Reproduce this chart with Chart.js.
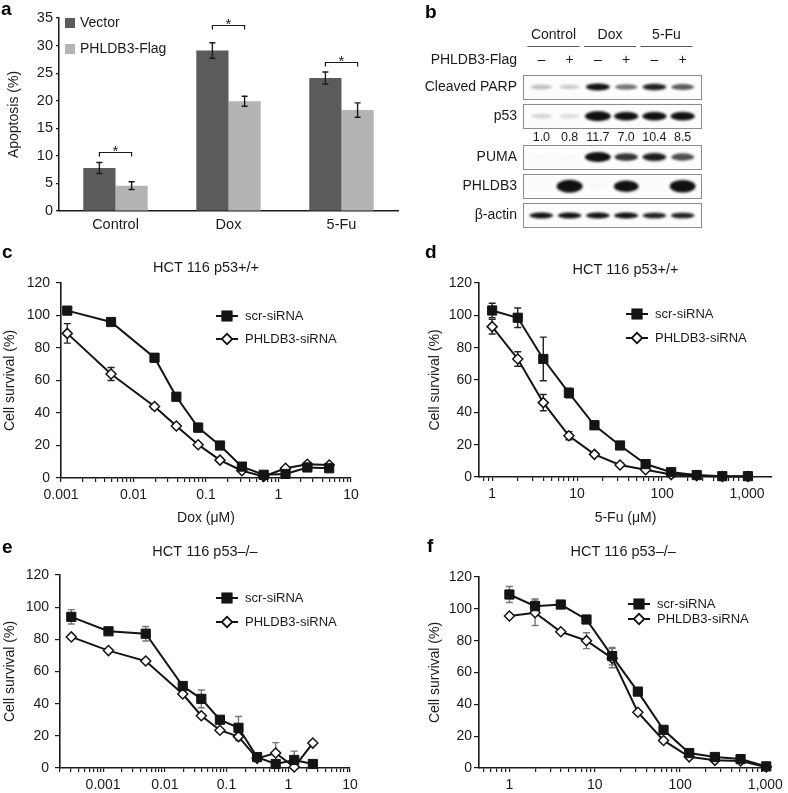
<!DOCTYPE html>
<html>
<head>
<meta charset="utf-8">
<title>PHLDB3 figure</title>
<script src="https://cdn.jsdelivr.net/npm/chart.js@4.4.1/dist/chart.umd.min.js"></script>
<style>
  body { margin: 0; background: #fff; }
  #fig { position: relative; width: 788px; height: 793px; overflow: hidden; }
  #fig canvas { position: absolute; }
</style>
</head>
<body>
<div id="fig">
  <canvas id="chartA" width="400" height="240" style="left:0;top:0"></canvas>
  <canvas id="chartB" width="388" height="240" style="left:400px;top:0"></canvas>
  <canvas id="chartC" width="400" height="290" style="left:0;top:240px"></canvas>
  <canvas id="chartD" width="388" height="290" style="left:400px;top:240px"></canvas>
  <canvas id="chartE" width="400" height="273" style="left:0;top:520px"></canvas>
  <canvas id="chartF" width="388" height="273" style="left:400px;top:520px"></canvas>
</div>
<script>
// ---------- data ----------
// a: apoptosis (%)
const groupsA = ['Control', 'Dox', '5-Fu'];
const vectorPct = [7.8, 29.1, 24.1];
const vectorErr = [1.0, 1.4, 1.1];
const flagPct = [4.6, 19.9, 18.3];
const flagErr = [0.7, 0.9, 1.3];
const bracketPct = [10.7, 33.7, 27.1];

// b: western blot (band signal, arbitrary units)
const blotGroups = ['Control', 'Dox', '5-Fu'];
const flagSigns = ['–', '+', '–', '+', '–', '+'];
const blotRows = ['Cleaved PARP', 'p53', 'PUMA', 'PHLDB3', 'β-actin'];
const parpSignal = [0.25, 0.2, 0.95, 0.55, 0.9, 0.65];
const p53Signal = [0.15, 0.12, 1.35, 1.0, 1.0, 1.0];
const pumaSignal = [0.02, 0.02, 1.35, 0.8, 0.9, 0.7];
const phldb3Signal = [0, 1.4, 0.02, 1.1, 0, 1.35];
const actinSignal = [0.95, 0.95, 0.95, 1.0, 0.9, 0.9];
const p53Ratio = ['1.0', '0.8', '11.7', '7.0', '10.4', '8.5'];

// c: HCT 116 p53+/+, Dox
const doxC = [0.00122, 0.0049, 0.0195, 0.039, 0.078, 0.156, 0.3125, 0.625, 1.25, 2.5, 5];
const scrC = [103, 96, 74, 50, 31, 20, 7, 2, 2.5, 6.5, 6];
const scrErrC = [1.5, 1, 2.5, 2, 2.5, 1, 1, 1, 1, 1, 1];
const phlC = [89, 64, 44, 32, 20.5, 11, 4.5, 1, 6, 8.5, 8];
const phlErrC = [6, 4, 1.5, 1, 1, 1, 1, 0.5, 1, 1, 1];

// d: HCT 116 p53+/+, 5-Fu
const fuD = [1, 2, 4, 8, 16, 32, 64, 128, 256, 512, 1024];
const scrD = [103, 98.5, 73, 52, 32, 19.5, 8, 3, 1.2, 0.5, 0.5];
const scrErrD = [4.5, 6, 13.5, 3, 2.5, 1, 1, 1, 1, 0.5, 0.5];
const phlD = [93, 73, 46, 25.5, 14, 7.4, 4.5, 1.5, 0.8, 0.3, 0.3];
const phlErrD = [4.5, 4.5, 5, 2.5, 1, 1, 1, 0.5, 0.5, 0.3, 0.3];

// e: HCT 116 p53-/-, Dox
const doxE = [0.000305, 0.00122, 0.0049, 0.0195, 0.039, 0.078, 0.156, 0.3125, 0.625, 1.25, 2.5];
const scrE = [94, 85, 83.5, 51, 43, 30, 25, 6.8, 2.5, 5, 2.5];
const scrErrE = [4.5, 1, 4.5, 1, 5.5, 1, 7, 1, 1, 5.5, 1];
const phlE = [81.5, 73, 66.5, 46, 32.5, 23.5, 19.5, 6, 9.3, 0.6, 15.5];
const phlErrE = [1, 1, 1, 1, 1, 1, 2.5, 1, 6.5, 1, 1];

// f: HCT 116 p53-/-, 5-Fu
const fuF = [1, 2, 4, 8, 16, 32, 64, 128, 256, 512, 1024];
const scrF = [109, 101.7, 102.7, 93.3, 70.3, 48, 24, 9.4, 6.9, 5.6, 1];
const scrErrF = [5, 4.5, 1, 1, 5.5, 1, 1, 1, 1, 1, 1];
const phlF = [95.5, 97.5, 85.6, 80, 69, 35, 17.3, 7, 4.8, 4.4, 0.6];
const phlErrF = [1, 8, 1, 5, 6, 1, 1, 1, 1, 1, 1];

// ---------- shared ----------
const FONT = '"Liberation Sans", Arial, Helvetica, sans-serif';
const INK = '#1a1a1a';
Chart.defaults.font.family = FONT;
Chart.defaults.color = INK;
Chart.defaults.animation = false;

// error bars with caps, drawn behind (line) or in front (bar) of the marks
const errorBars = {
  id: 'errorBars',
  beforeDatasetsDraw(chart, args, opts) { if (!opts.front) drawErrors(chart, opts); },
  afterDatasetsDraw(chart, args, opts) { if (opts.front) drawErrors(chart, opts); }
};
function drawErrors(chart, opts) {
  const ctx = chart.ctx, y = chart.scales.y;
  ctx.save();
  ctx.strokeStyle = opts.color || INK;
  ctx.lineWidth = opts.width || 1.5;
  chart.data.datasets.forEach((ds, i) => {
    if (!ds.errors) return;
    chart.getDatasetMeta(i).data.forEach((el, j) => {
      const e = ds.errors[j];
      if (!e) return;
      const raw = ds.data[j];
      const v = typeof raw === 'object' ? raw.y : raw;
      const top = y.getPixelForValue(v + e), bot = y.getPixelForValue(v - e);
      const cap = opts.cap || 3;
      ctx.beginPath();
      ctx.moveTo(el.x, top); ctx.lineTo(el.x, bot);
      ctx.moveTo(el.x - cap, top); ctx.lineTo(el.x + cap, top);
      ctx.moveTo(el.x - cap, bot); ctx.lineTo(el.x + cap, bot);
      ctx.stroke();
    });
  });
  ctx.restore();
}

function panelLetter(ctx, letter, x, y) {
  ctx.save();
  ctx.font = 'bold 19px ' + FONT;
  ctx.fillStyle = '#000';
  ctx.textBaseline = 'alphabetic';
  ctx.fillText(letter, x, y);
  ctx.restore();
}

// ---------- a: bar chart ----------
const panelA = {
  id: 'panelA',
  afterDraw(chart) {
    const { ctx } = chart;
    const y = chart.scales.y;
    panelLetter(ctx, 'a', 1, 15);
    ctx.save();
    // legend
    ctx.font = '14px ' + FONT;
    ctx.textBaseline = 'middle';
    chart.data.datasets.forEach((ds, i) => {
      const cy = 23 + i * 26;
      ctx.fillStyle = ds.backgroundColor;
      ctx.fillRect(65, cy - 5, 10, 10);
      ctx.fillStyle = INK;
      ctx.fillText(ds.label, 80, cy);
    });
    // significance brackets
    const m0 = chart.getDatasetMeta(0).data, m1 = chart.getDatasetMeta(1).data;
    ctx.strokeStyle = INK;
    ctx.lineWidth = 1.2;
    ctx.textAlign = 'center';
    ctx.textBaseline = 'alphabetic';
    bracketPct.forEach((v, i) => {
      const by = Math.round(y.getPixelForValue(v)) + 0.5;
      ctx.beginPath();
      ctx.moveTo(m0[i].x, by + 4); ctx.lineTo(m0[i].x, by);
      ctx.lineTo(m1[i].x, by); ctx.lineTo(m1[i].x, by + 4);
      ctx.stroke();
      ctx.fillStyle = INK;
      ctx.font = '15px ' + FONT;
      ctx.fillText('*', (m0[i].x + m1[i].x) / 2, by + 3);
    });
    ctx.restore();
  }
};

new Chart(document.getElementById('chartA'), {
  type: 'bar',
  data: {
    labels: groupsA,
    datasets: [
      { label: 'Vector', data: vectorPct, errors: vectorErr, backgroundColor: '#5b5b5b' },
      { label: 'PHLDB3-Flag', data: flagPct, errors: flagErr, backgroundColor: '#b4b4b4' }
    ]
  },
  options: {
    responsive: false,
    layout: { padding: { left: 0, top: 18, right: 2, bottom: 0 } },
    datasets: { bar: { categoryPercentage: 0.57, barPercentage: 1.0 } },
    plugins: {
      legend: { display: false },
      tooltip: { enabled: false },
      errorBars: { front: true, cap: 3, width: 1.4 }
    },
    scales: {
      x: {
        afterFit: s => { s.height = 29; },
        grid: { display: false, drawTicks: false },
        border: { display: true, color: INK, width: 1.5 },
        ticks: { font: { size: 14.5 }, padding: 5 }
      },
      y: {
        min: 0, max: 35,
        afterFit: s => { s.width = 59; },
        ticks: { stepSize: 5, font: { size: 14.5 }, padding: 3 },
        grid: { drawOnChartArea: false, tickLength: 3, color: INK, lineWidth: 1.2 },
        border: { display: true, color: INK, width: 1.5 },
        title: { display: true, text: 'Apoptosis (%)', font: { size: 14 }, padding: { top: 6, bottom: 0 } }
      }
    }
  },
  plugins: [errorBars, panelA]
});

// ---------- b: western blot ----------
const blotSignals = [parpSignal, p53Signal, pumaSignal, phldb3Signal, actinSignal];
const blotLanes = flagSigns.map((_, i) => i + 1);
const rowPos = [0, 1, 2.4, 3.4, 4.4];   // vertical slot of each blot strip
const ratioPos = 1.72;
const rowBandH = [7, 8.5, 8.5, 11, 6];
const boxHalf = 0.41;

function bandSprite(signal, baseH) {
  const s = Math.min(signal, 1.4);
  const w = 20 + 6 * s / 1.4;
  const h = baseH * (0.55 + 0.45 * s);
  const c = document.createElement('canvas');
  c.width = Math.ceil(w + 8);
  c.height = Math.ceil(h + 8);
  const g = c.getContext('2d');
  g.filter = 'blur(1px)';
  g.fillStyle = 'rgba(16,16,16,' + Math.min(1, s * 1.05).toFixed(3) + ')';
  g.beginPath();
  g.ellipse(c.width / 2, c.height / 2, w / 2, h / 2, 0, 0, Math.PI * 2);
  g.fill();
  return c;
}

const blotFrame = {
  id: 'blotFrame',
  beforeDatasetsDraw(chart) {
    const { ctx, chartArea: ca } = chart;
    const y = chart.scales.y;
    ctx.save();
    rowPos.forEach(r => {
      const t = Math.round(y.getPixelForValue(r - boxHalf)) + 0.5;
      const b = Math.round(y.getPixelForValue(r + boxHalf)) + 0.5;
      ctx.fillStyle = '#fcfcfc';
      ctx.fillRect(ca.left, t, ca.right - ca.left, b - t);
      ctx.strokeStyle = '#8c8c8c';
      ctx.lineWidth = 1;
      ctx.strokeRect(Math.round(ca.left) + 0.5, t, Math.round(ca.right - ca.left), b - t);
    });
    ctx.restore();
  },
  afterDraw(chart) {
    const { ctx, chartArea: ca } = chart;
    const x = chart.scales.x, y = chart.scales.y;
    panelLetter(ctx, 'b', 25, 18);
    ctx.save();
    ctx.fillStyle = INK;
    ctx.strokeStyle = '#555';
    ctx.lineWidth = 1;
    ctx.font = '14px ' + FONT;
    ctx.textBaseline = 'middle';
    ctx.textAlign = 'center';
    blotGroups.forEach((g, i) => {
      const cx = (x.getPixelForValue(blotLanes[2 * i]) + x.getPixelForValue(blotLanes[2 * i + 1])) / 2 - 2;
      ctx.fillText(g, cx, ca.top - 40);
      ctx.beginPath();
      ctx.moveTo(cx - 26, ca.top - 28.5);
      ctx.lineTo(cx + 26, ca.top - 28.5);
      ctx.stroke();
    });
    flagSigns.forEach((s, i) => ctx.fillText(s, x.getPixelForValue(blotLanes[i]), ca.top - 15));
    ctx.font = '12.5px ' + FONT;
    p53Ratio.forEach((s, i) => ctx.fillText(s, x.getPixelForValue(blotLanes[i]), y.getPixelForValue(ratioPos)));
    ctx.font = '14px ' + FONT;
    ctx.textAlign = 'right';
    ctx.fillText('PHLDB3-Flag', ca.left - 6, ca.top - 15);
    blotRows.forEach((name, r) => ctx.fillText(name, ca.left - 6, y.getPixelForValue(rowPos[r])));
    ctx.restore();
  }
};

new Chart(document.getElementById('chartB'), {
  type: 'scatter',
  data: {
    datasets: blotRows.map((name, r) => ({
      label: name,
      data: blotLanes.map(l => ({ x: l, y: rowPos[r] })),
      pointStyle: blotSignals[r].map(s => bandSprite(s, rowBandH[r])),
      pointRadius: 4,
      clip: false
    }))
  },
  options: {
    responsive: false,
    layout: { padding: { left: 123, top: 75, right: 87, bottom: 12 } },
    plugins: { legend: { display: false }, tooltip: { enabled: false } },
    scales: {
      x: { type: 'linear', min: 0.35, max: 6.65, display: false },
      y: { type: 'linear', min: -0.41, max: 4.83, reverse: true, display: false }
    }
  },
  plugins: [blotFrame]
});

// ---------- c-f: survival curves ----------
function logTicks(min, max) {
  const out = [];
  for (let e = Math.floor(Math.log10(min)); e <= Math.ceil(Math.log10(max)); e++) {
    for (let k = 1; k <= 9; k++) {
      const v = Number((k * Math.pow(10, e)).toPrecision(6));
      if (v >= min * 0.999 && v <= max * 1.001) out.push(v);
    }
  }
  return out;
}
function decadeLabel(v) {
  const l = Math.log10(v);
  if (Math.abs(l - Math.round(l)) > 1e-6) return '';
  return v >= 1 ? v.toLocaleString('en-US') : String(v);
}

const survivalText = {
  id: 'survivalText',
  afterDraw(chart, args, o) {
    const { ctx, chartArea: ca } = chart;
    panelLetter(ctx, o.letter, o.letterX, o.letterY);
    ctx.save();
    ctx.fillStyle = INK;
    ctx.font = '14.5px ' + FONT;
    ctx.textAlign = 'center';
    ctx.textBaseline = 'middle';
    ctx.fillText(o.title, (ca.left + ca.right) / 2, o.titleY);
    // legend: line through marker
    ctx.textAlign = 'left';
    ctx.font = '13px ' + FONT;
    chart.data.datasets.forEach((ds, i) => {
      const ly = o.legendY[i], lx = o.legendX;
      ctx.strokeStyle = ds.borderColor;
      ctx.lineWidth = 2;
      ctx.beginPath();
      ctx.moveTo(lx - 11, ly); ctx.lineTo(lx + 11, ly);
      ctx.stroke();
      Chart.helpers.drawPoint(ctx, {
        pointStyle: ds.pointStyle, radius: ds.pointRadius, borderWidth: ds.pointBorderWidth || 1
      }, lx, ly);
      ctx.fillStyle = ds.pointBackgroundColor;
      ctx.strokeStyle = ds.pointBorderColor;
      ctx.lineWidth = ds.pointBorderWidth || 1;
      ctx.fill();
      ctx.stroke();
      ctx.fillStyle = INK;
      ctx.fillText(ds.label, lx + 18, ly);
    });
    ctx.restore();
  }
};

function survivalChart(id, c) {
  return new Chart(document.getElementById(id), {
    type: 'line',
    data: {
      datasets: [
        {
          label: 'scr-siRNA',
          data: c.x.map((v, i) => ({ x: v, y: c.scr[i] })),
          errors: c.scrErr,
          borderColor: '#141414', borderWidth: 2,
          pointStyle: 'rect', pointRadius: 6.5,
          pointBackgroundColor: '#141414', pointBorderColor: '#141414', pointBorderWidth: 1,
          clip: false
        },
        {
          label: 'PHLDB3-siRNA',
          data: c.x.map((v, i) => ({ x: v, y: c.phl[i] })),
          errors: c.phlErr,
          borderColor: '#141414', borderWidth: 2,
          pointStyle: 'rectRot', pointRadius: 5,
          pointBackgroundColor: '#ffffff', pointBorderColor: '#141414', pointBorderWidth: 1.5,
          clip: false
        }
      ]
    },
    options: {
      responsive: false,
      layout: { padding: { left: c.padLeft, top: c.padTop, right: c.padRight, bottom: 0 } },
      plugins: {
        legend: { display: false },
        tooltip: { enabled: false },
        errorBars: { front: false, cap: 3.5, width: 1.4, color: c.errColor },
        survivalText: c.text
      },
      scales: {
        x: {
          type: 'logarithmic', min: c.min, max: c.max,
          afterFit: s => { s.height = c.xHeight; },
          afterBuildTicks: s => { s.ticks = logTicks(c.min, c.max).map(v => ({ value: v })); },
          ticks: { callback: v => decadeLabel(v), autoSkip: false, maxRotation: 0, font: { size: 14 }, padding: 5 },
          grid: { drawOnChartArea: false, tickLength: 4, color: INK, lineWidth: 1.2 },
          border: { display: true, color: INK, width: 1.6 },
          title: { display: !!c.xTitle, text: c.xTitle || '', font: { size: 14 }, padding: { top: 0, bottom: 3 } }
        },
        y: {
          min: 0, max: 120,
          afterFit: s => { s.width = c.yWidth; },
          ticks: { stepSize: 20, font: { size: 14 }, padding: c.yTickPad },
          grid: { drawOnChartArea: false, tickLength: 5, color: INK, lineWidth: 1.2 },
          border: { display: true, color: INK, width: 1.6 },
          title: { display: true, text: 'Cell survival (%)', font: { size: 14 }, padding: { top: 2, bottom: 0 } }
        }
      }
    },
    plugins: [errorBars, survivalText]
  });
}

survivalChart('chartC', {
  x: doxC, scr: scrC, scrErr: scrErrC, phl: phlC, phlErr: phlErrC,
  min: 0.001, max: 10, xTitle: 'Dox (μM)', errColor: '#222',
  padLeft: 0, yWidth: 61, padTop: 43, padRight: 49, xHeight: 52, yTickPad: 6,
  text: { letter: 'c', letterX: 2, letterY: 18, title: 'HCT 116 p53+/+', titleY: 28, legendX: 227, legendY: [76, 99] }
});
survivalChart('chartD', {
  x: fuD, scr: scrD, scrErr: scrErrD, phl: phlD, phlErr: phlErrD,
  min: 0.73, max: 1968, xTitle: '5-Fu (μM)', errColor: '#222',
  padLeft: 25, yWidth: 54, padTop: 43, padRight: 16, xHeight: 53, yTickPad: 2,
  text: { letter: 'd', letterX: 25, letterY: 18, title: 'HCT 116 p53+/+', titleY: 30, legendX: 237, legendY: [74, 98] }
});
survivalChart('chartE', {
  x: doxE, scr: scrE, scrErr: scrErrE, phl: phlE, phlErr: phlErrE,
  min: 0.0002, max: 10, errColor: '#777',
  padLeft: 0, yWidth: 60, padTop: 55, padRight: 50, xHeight: 25, yTickPad: 6,
  text: { letter: 'e', letterX: 2, letterY: 33, title: 'HCT 116 p53–/–', titleY: 32, legendX: 227, legendY: [78, 102] }
});
survivalChart('chartF', {
  x: fuF, scr: scrF, scrErr: scrErrF, phl: phlF, phlErr: phlErrF,
  min: 0.44, max: 1054, errColor: '#777',
  padLeft: 25, yWidth: 54, padTop: 57, padRight: 16, xHeight: 25, yTickPad: 2,
  text: { letter: 'f', letterX: 27, letterY: 32, title: 'HCT 116 p53–/–', titleY: 32, legendX: 239, legendY: [84, 99] }
});
</script>
</body>
</html>
